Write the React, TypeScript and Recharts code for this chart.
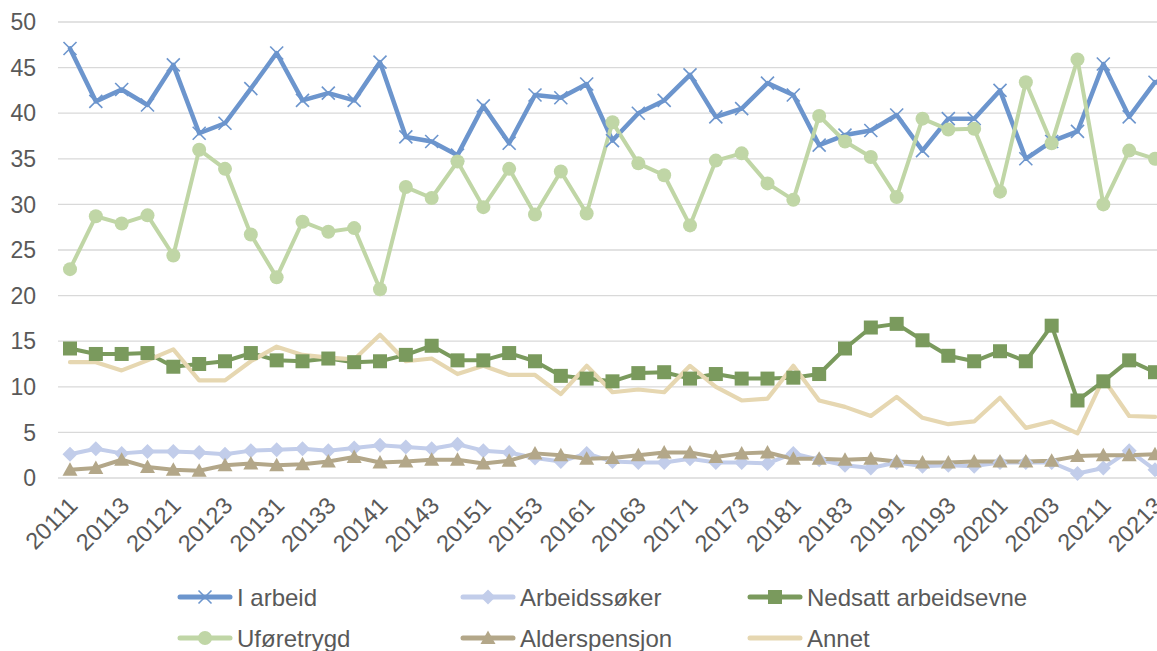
import React from 'react';
import { LineChart, Line, XAxis, YAxis, CartesianGrid, Legend } from 'recharts';

const categories = [
  '20111', '20112', '20113', '20114',
  '20121', '20122', '20123', '20124',
  '20131', '20132', '20133', '20134',
  '20141', '20142', '20143', '20144',
  '20151', '20152', '20153', '20154',
  '20161', '20162', '20163', '20164',
  '20171', '20172', '20173', '20174',
  '20181', '20182', '20183', '20184',
  '20191', '20192', '20193', '20194',
  '20201', '20202', '20203', '20204',
  '20211', '20212', '20213',
];

const iArbeid = [47.1, 41.3, 42.6, 40.9, 45.3, 37.8, 38.9, 42.7, 46.6, 41.4, 42.2, 41.4, 45.6, 37.4, 36.9, 35.4, 40.8, 36.7, 42.0, 41.7, 43.2, 37.0, 40.0, 41.4, 44.2, 39.6, 40.5, 43.3, 42.0, 36.5, 37.6, 38.1, 39.8, 35.9, 39.4, 39.4, 42.5, 35.0, 36.9, 38.0, 45.4, 39.6, 43.4];
const arbeidssoker = [2.6, 3.2, 2.7, 2.9, 2.9, 2.8, 2.6, 3.0, 3.1, 3.2, 3.0, 3.3, 3.6, 3.4, 3.2, 3.7, 3.0, 2.8, 2.2, 1.8, 2.7, 1.8, 1.7, 1.7, 2.1, 1.7, 1.7, 1.6, 2.7, 2.0, 1.4, 1.1, 1.7, 1.3, 1.4, 1.3, 1.7, 1.7, 1.7, 0.5, 1.1, 3.0, 0.9];
const nedsatt = [14.2, 13.6, 13.6, 13.7, 12.2, 12.5, 12.8, 13.7, 12.9, 12.8, 13.1, 12.7, 12.8, 13.5, 14.5, 12.9, 12.9, 13.7, 12.8, 11.2, 10.9, 10.6, 11.5, 11.6, 10.9, 11.4, 10.9, 10.9, 11.0, 11.4, 14.2, 16.5, 16.9, 15.1, 13.4, 12.8, 13.9, 12.8, 16.7, 8.5, 10.6, 12.9, 11.6];
const uforetrygd = [22.9, 28.7, 27.9, 28.8, 24.4, 36.0, 33.9, 26.7, 22.0, 28.1, 27.0, 27.4, 20.7, 31.9, 30.7, 34.7, 29.7, 33.9, 28.9, 33.6, 29.0, 39.0, 34.5, 33.2, 27.7, 34.8, 35.6, 32.3, 30.5, 39.7, 36.9, 35.2, 30.8, 39.4, 38.2, 38.3, 31.4, 43.4, 36.7, 45.9, 30.0, 35.9, 35.0];
const alderspensjon = [0.9, 1.1, 2.0, 1.2, 0.9, 0.8, 1.4, 1.6, 1.4, 1.5, 1.8, 2.3, 1.7, 1.8, 2.0, 2.0, 1.6, 1.9, 2.7, 2.5, 2.1, 2.2, 2.5, 2.8, 2.8, 2.3, 2.7, 2.8, 2.1, 2.1, 2.0, 2.1, 1.8, 1.7, 1.7, 1.8, 1.8, 1.8, 1.9, 2.4, 2.5, 2.5, 2.6];
const annet = [12.7, 12.7, 11.8, 12.9, 14.1, 10.7, 10.7, 12.8, 14.4, 13.5, 13.2, 13.0, 15.7, 12.8, 13.1, 11.4, 12.3, 11.3, 11.3, 9.2, 12.3, 9.4, 9.7, 9.4, 12.3, 10.0, 8.5, 8.7, 12.3, 8.5, 7.8, 6.8, 8.9, 6.6, 5.9, 6.2, 8.8, 5.5, 6.2, 4.9, 10.9, 6.8, 6.7];

const yTicks = [0, 5, 10, 15, 20, 25, 30, 35, 40, 45, 50];

const FONT = '"Liberation Sans", Arial, sans-serif';
const TEXT = '#595959';

type Marker = 'x' | 'diamond' | 'square' | 'circle' | 'triangle' | 'none';

const series: { key: string; name: string; color: string; width: number; marker: Marker }[] = [
  { key: 'iArbeid', name: 'I arbeid', color: '#6C95CD', width: 4.5, marker: 'x' },
  { key: 'arbeidssoker', name: 'Arbeidssøker', color: '#C2CDEA', width: 4, marker: 'diamond' },
  { key: 'nedsatt', name: 'Nedsatt arbeidsevne', color: '#7A9A5D', width: 4, marker: 'square' },
  { key: 'uforetrygd', name: 'Uføretrygd', color: '#C0D6A6', width: 4, marker: 'circle' },
  { key: 'alderspensjon', name: 'Alderspensjon', color: '#B3A789', width: 4, marker: 'triangle' },
  { key: 'annet', name: 'Annet', color: '#E6D7B1', width: 4.2, marker: 'none' },
];

const data = categories.map((cat, i) => ({
  cat,
  iArbeid: iArbeid[i],
  arbeidssoker: arbeidssoker[i],
  nedsatt: nedsatt[i],
  uforetrygd: uforetrygd[i],
  alderspensjon: alderspensjon[i],
  annet: annet[i],
}));

function markerShape(marker: Marker, color: string, cx: number, cy: number, key?: string) {
  switch (marker) {
    case 'x':
      return (
        <g key={key}>
          <line x1={cx - 6.5} y1={cy - 6.5} x2={cx + 6.5} y2={cy + 6.5} stroke={color} strokeWidth={1.6} />
          <line x1={cx - 6.5} y1={cy + 6.5} x2={cx + 6.5} y2={cy - 6.5} stroke={color} strokeWidth={1.6} />
        </g>
      );
    case 'diamond':
      return <polygon key={key} points={`${cx},${cy - 7.5} ${cx + 7.5},${cy} ${cx},${cy + 7.5} ${cx - 7.5},${cy}`} fill={color} />;
    case 'square':
      return <rect key={key} x={cx - 7} y={cy - 7} width={14} height={14} fill={color} />;
    case 'circle':
      return <circle key={key} cx={cx} cy={cy} r={7} fill={color} />;
    case 'triangle':
      return <polygon key={key} points={`${cx},${cy - 7.5} ${cx + 7.5},${cy + 6} ${cx - 7.5},${cy + 6}`} fill={color} />;
    default:
      return <g key={key} />;
  }
}

const makeDot = (marker: Marker, color: string) => (props: any) => {
  const { cx, cy, index } = props;
  if (cx == null || cy == null) return <g key={`d-${index}`} />;
  return markerShape(marker, color, cx, cy, `d-${index}`);
};

const XTick = (props: any) => {
  const { x, y, payload } = props;
  const ax = x + 9;
  const ay = y + 21;
  return (
    <text
      x={ax}
      y={ay}
      transform={`rotate(-45 ${ax} ${ay})`}
      textAnchor="end"
      fill={TEXT}
      fontSize={23.5}
      fontFamily={FONT}
    >
      {payload.value}
    </text>
  );
};

const legendCols = [178, 461, 748];
const legendRows = [27, 68];

const renderLegend = () => (
  <svg width={1157} height={81} style={{ display: 'block' }}>
    {series.map((s, i) => {
      const x0 = legendCols[i % 3];
      const cy = legendRows[Math.floor(i / 3)];
      return (
        <g key={s.key}>
          <line x1={x0 + 2} y1={cy} x2={x0 + 52} y2={cy} stroke={s.color} strokeWidth={5} strokeLinecap="round" />
          {markerShape(s.marker, s.color, x0 + 27, cy)}
          <text x={x0 + 59} y={cy + 8.6} fill={TEXT} fontSize={24} fontFamily={FONT}>
            {s.name}
          </text>
        </g>
      );
    })}
  </svg>
);

export default function App() {
  return (
    <div style={{ position: 'absolute', left: 0, top: 0, width: 1157, height: 651, overflow: 'hidden', background: '#fff' }}>
      <LineChart width={1157} height={651} data={data} margin={{ top: 22, right: 0, bottom: 83, left: 0 }}>
        <CartesianGrid vertical={false} stroke="#D9D9D9" strokeWidth={1.3} />
        <XAxis
          dataKey="cat"
          interval={1}
          tickLine={false}
          axisLine={false}
          height={90}
          padding={{ left: 12, right: 2 }}
          tick={<XTick />}
        />
        <YAxis
          domain={[0, 50]}
          ticks={yTicks}
          width={58}
          tickLine={false}
          axisLine={false}
          tickMargin={16}
          tick={{ fill: TEXT, fontSize: 23, fontFamily: FONT }}
          interval={0}
        />
        {series.map((s) => (
          <Line
            key={s.key}
            type="linear"
            dataKey={s.key}
            name={s.name}
            stroke={s.color}
            strokeWidth={s.width}
            strokeLinejoin="round"
            strokeLinecap="round"
            dot={makeDot(s.marker, s.color)}
            activeDot={false}
            isAnimationActive={false}
          />
        ))}
        <Legend
          layout="horizontal"
          verticalAlign="middle"
          align="center"
          wrapperStyle={{ top: 570, left: 0, width: 1157, height: 81 }}
          content={renderLegend}
        />
      </LineChart>
    </div>
  );
}
